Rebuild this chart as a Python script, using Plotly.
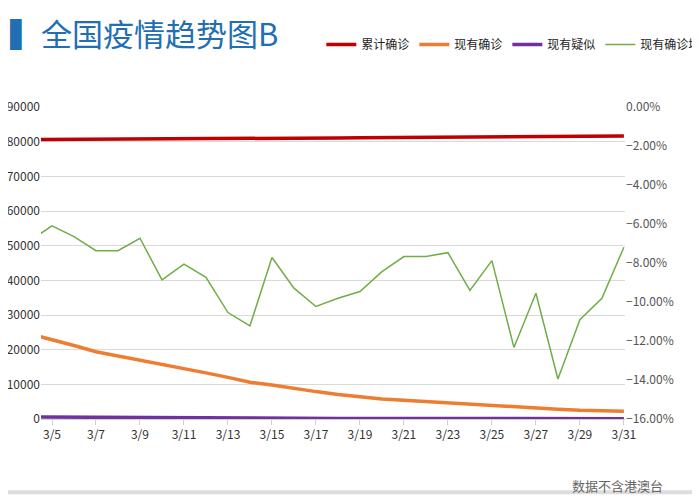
import plotly.graph_objects as go

dates = ["3/%d" % d for d in range(4, 32)]
cum = [80600,80650,80700,80750,80800,80820,80850,80880,80900,80930,80960,80990,81020,81050,81080,81110,81150,81190,81230,81270,81310,81350,81400,81450,81500,81550,81600,81650]
cur = [24500,22900,21200,19400,18200,17000,15900,14600,13300,12000,10600,9800,8800,7900,7100,6400,5800,5400,5000,4800,4400,4000,3600,3200,2800,2500,2300,2200]
susp = [600,550,520,480,450,400,350,300,250,200,180,160,150,140,130,120,120,110,110,110,110,110,100,100,100,100,100,100]
growth = [-6.85,-6.10,-6.65,-7.37,-7.37,-6.73,-8.87,-8.06,-8.73,-10.54,-11.22,-7.72,-9.29,-10.23,-9.81,-9.46,-8.44,-7.67,-7.67,-7.47,-9.41,-7.88,-12.33,-9.55,-13.95,-10.91,-9.81,-7.19]
ticks = dates[1::2]

fig = go.Figure()
fig.add_trace(go.Scatter(x=dates, y=cum, name="累计确诊", mode="lines", line=dict(color="#c00000", width=3.5)))
fig.add_trace(go.Scatter(x=dates, y=cur, name="现有确诊", mode="lines", line=dict(color="#ed7d31", width=3.5)))
fig.add_trace(go.Scatter(x=dates, y=susp, name="现有疑似", mode="lines", line=dict(color="#7030a0", width=3.5)))
fig.add_trace(go.Scatter(x=dates, y=[g/100 for g in growth], name="现有确诊增长率", mode="lines", yaxis="y2", line=dict(color="#70ad47", width=1.5)))

fig.update_layout(
    width=700, height=500, plot_bgcolor="white", paper_bgcolor="white",
    margin=dict(l=33, r=83, t=99, b=89, autoexpand=False),
    font=dict(family="Noto Sans CJK SC", size=11, color="#333"),
    showlegend=True,
    legend=dict(orientation="h", x=0.48, y=1.2, xanchor="left", yanchor="middle", font=dict(size=12, color="#222"), itemwidth=30, tracegroupgap=0),
    xaxis=dict(type="category", range=[0.5, 27.05], tickvals=ticks, ticktext=ticks, showgrid=False,
               showline=True, linecolor="#d0d0d0", ticks="outside", tickcolor="#d0d0d0", ticklen=5, tickfont=dict(size=12)),
    yaxis=dict(range=[0, 90000], dtick=10000, tickformat="d", showgrid=True, gridcolor="#d9d9d9", zeroline=False, tickfont=dict(size=12), ticks=""),
    yaxis2=dict(overlaying="y", side="right", range=[-0.16, 0], dtick=0.02, tickformat=".2%", showgrid=False, zeroline=False, tickfont=dict(size=12, color="#555")),
    annotations=[
        dict(text="<b>▍</b>全国疫情趋势图B", x=0, y=1, xref="paper", yref="paper", xshift=-33, yshift=50, xanchor="left", yanchor="bottom",
             showarrow=False, font=dict(size=31, color="#1f6fb2")),
        dict(text="数据不含港澳台", x=1, y=0, xref="paper", yref="paper", xshift=40, yshift=-78, xanchor="right", yanchor="bottom",
             showarrow=False, font=dict(size=13, color="#666")),
    ],
    shapes=[dict(type="line", xref="paper", yref="paper", x0=-0.1, x1=1.2, y0=-0.235, y1=-0.235, line=dict(color="#ddd", width=4))],
)
fig.write_html("out.html")
